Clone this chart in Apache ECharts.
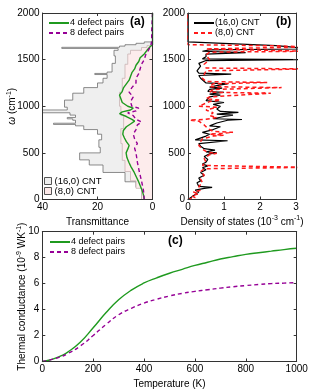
<!DOCTYPE html>
<html><head><meta charset="utf-8">
<script src="https://cdn.jsdelivr.net/npm/echarts@6/dist/echarts.min.js"></script>
<style>html,body{margin:0;padding:0;background:#fff}#c{width:313px;height:392px}</style>
</head><body><div id="c"></div>
<script>
const FONT = '"Liberation Sans", Arial, sans-serif';

// ---------- Panel (a): transmittance vs frequency (cm^-1) ----------
// step data: transmittance level starting at each frequency
const omega16 = [0, 130, 190, 290, 370, 425, 500, 560, 640, 700, 750, 790, 805, 818, 850, 865, 880, 905, 930, 960, 990, 1066, 1140, 1200, 1250, 1300, 1340, 1352, 1367, 1460, 1540, 1600, 1620, 1632, 1645, 1660, 1675, 1690];
const trans16 = [4, 6, 10, 18, 23, 26.5, 19, 19.5, 18.5, 20, 25, 28, 36, 28, 29, 31, 28, 30, 42, 31, 32, 29, 25, 20, 18, 16.5, 21, 16.5, 14.7, 13.5, 14, 12.5, 33, 12, 10, 6, 3, 0];
const omega8 = [0, 120, 200, 300, 420, 600, 760, 900, 1000, 1150, 1300, 1450, 1560, 1600, 1630, 1650];
const trans8 = [4, 6, 8, 10, 11, 11.5, 10.5, 11.5, 12, 11, 10, 9, 8, 4, 2, 0];
// defected tubes
const omegaDef4 = [0, 50, 100, 150, 200, 250, 300, 350, 400, 450, 500, 540, 580, 620, 660, 700, 740, 780, 810, 840, 860, 890, 920, 940, 960, 980, 1000, 1040, 1080, 1120, 1160, 1200, 1240, 1280, 1320, 1360, 1400, 1440, 1480, 1520, 1560, 1600, 1640, 1660, 2000];
const transDef4 = [3.0, 3.3, 3.8, 4.5, 5.2, 6.0, 6.8, 7.8, 8.6, 9.3, 9.6, 9.0, 8.5, 9.5, 10.2, 10.8, 10.6, 9.5, 8.0, 6.5, 7.5, 9.5, 12.0, 11.0, 8.0, 7.0, 9.0, 11.0, 11.5, 12.0, 11.0, 10.5, 9.5, 8.5, 8.0, 7.5, 6.5, 6.0, 5.0, 4.5, 3.0, 2.0, 0.8, 0, 0];
const omegaDef8 = [0, 100, 200, 300, 400, 500, 550, 600, 650, 700, 750, 800, 830, 860, 900, 930, 950, 980, 1000, 1050, 1100, 1150, 1200, 1250, 1300, 1350, 1400, 1450, 1500, 1550, 1600, 1650, 1700, 1800, 1820, 2000];
const transDef8 = [3.0, 3.3, 4.0, 4.8, 5.5, 6.0, 6.5, 5.5, 6.5, 7.0, 6.0, 5.5, 4.0, 6.0, 7.0, 9.0, 6.0, 5.0, 7.5, 8.0, 7.0, 8.5, 7.5, 6.0, 6.0, 5.0, 4.5, 4.0, 3.0, 2.5, 1.5, 0.6, 0.3, 0.3, 0, 0];

// ---------- Panel (b): density of states ----------
const omegaDos16 = [0, 20, 40, 60, 80, 100, 120, 130, 140, 160, 180, 200, 230, 260, 290, 320, 340, 360, 380, 400, 430, 460, 490, 500, 510, 530, 545, 570, 600, 620, 630, 640, 660, 680, 700, 720, 750, 780, 790, 820, 850, 858, 866, 890, 905, 915, 935, 945, 970, 1000, 1020, 1040, 1060, 1080, 1100, 1120, 1130, 1150, 1158, 1180, 1195, 1205, 1230, 1240, 1250, 1270, 1300, 1330, 1345, 1355, 1380, 1400, 1430, 1460, 1490, 1500, 1508, 1530, 1560, 1575, 1590, 1605, 1615, 1625, 1635, 1650, 1690, 2000];
const dos16 = [0, 0.05, 0.15, 0.1, 0.3, 0.2, 0.45, 0.67, 0.3, 0.35, 0.25, 0.35, 0.3, 0.45, 0.35, 0.5, 0.4, 0.55, 0.4, 0.5, 0.55, 0.45, 0.6, 0.8, 0.5, 0.75, 0.45, 0.35, 0.3, 0.25, 1.1, 0.2, 0.25, 0.5, 0.6, 0.4, 0.7, 0.9, 0.6, 0.8, 1.1, 1.5, 0.7, 1.0, 1.25, 0.8, 1.4, 0.9, 0.8, 0.9, 0.7, 1.0, 0.5, 0.45, 0.6, 0.9, 0.6, 1.0, 0.55, 0.6, 0.95, 0.6, 0.9, 1.1, 0.5, 0.45, 0.35, 0.3, 1.2, 0.3, 0.25, 0.3, 0.35, 0.3, 0.5, 3.3, 0.4, 0.5, 0.5, 1.6, 0.4, 0.6, 3.3, 3.3, 2.9, 2.45, 0, 0];
const omegaDos8 = [0, 20, 40, 60, 80, 100, 140, 180, 220, 260, 300, 330, 345, 355, 365, 400, 440, 480, 495, 505, 540, 580, 620, 650, 680, 690, 700, 720, 730, 760, 800, 840, 852, 860, 880, 900, 930, 960, 990, 1000, 1020, 1050, 1066, 1080, 1100, 1140, 1150, 1180, 1200, 1210, 1240, 1255, 1265, 1300, 1340, 1380, 1400, 1410, 1450, 1500, 1550, 1580, 1590, 1605, 1615, 1635, 1648, 1660, 2000];
const dos8 = [0, 0.2, 0.1, 0.3, 0.15, 0.35, 0.3, 0.4, 0.35, 0.45, 0.35, 0.45, 3.3, 3.3, 0.4, 0.5, 0.45, 0.6, 0.8, 0.55, 0.4, 0.3, 0.35, 0.4, 0.7, 1.0, 0.6, 1.25, 0.7, 0.55, 0.45, 0.3, 0.05, 0.5, 0.8, 0.6, 0.7, 0.5, 0.8, 0.3, 0.35, 0.6, 0.9, 0.5, 0.6, 2.3, 0.6, 0.7, 2.6, 0.6, 0.7, 2.2, 0.5, 0.4, 0.45, 0.5, 3.3, 0.5, 0.45, 0.6, 0.5, 0.6, 3.3, 3.3, 0.5, 3.3, 2.5, 0, 0];

// ---------- Panel (c): thermal conductance ----------
const temperature = [0, 25, 50, 75, 100, 150, 200, 250, 300, 350, 400, 450, 500, 550, 600, 650, 700, 750, 800, 850, 900, 950, 1000];
const cond4 = [0, 0.1, 0.25, 0.45, 0.72, 1.5, 2.6, 3.75, 4.75, 5.5, 6.05, 6.45, 6.8, 7.1, 7.4, 7.65, 7.9, 8.08, 8.25, 8.38, 8.5, 8.62, 8.72];
const cond8 = [0, 0.1, 0.22, 0.38, 0.6, 1.2, 2.0, 2.85, 3.6, 4.1, 4.5, 4.8, 5.05, 5.25, 5.4, 5.53, 5.65, 5.76, 5.85, 5.93, 6.0, 6.04, 6.08];

const GREEN = '#1f9a1f', PURPLE = '#960096', RED = '#ff1a1a', AXC = '#333';
const rich = {
  i: {fontStyle: 'italic', fontSize: 10, fontFamily: FONT, lineHeight: 14},
  s: {fontSize: 7, fontFamily: FONT, verticalAlign: 'top', lineHeight: 14}
};
const nameStyle = {fontSize: 10, fontFamily: FONT, color: '#000', lineHeight: 14, rich};

function axis(gridIndex, pos, min, max, interval, extra, mirror) {
  return Object.assign({
    type: 'value', gridIndex, position: pos, min, max, interval, z: 10,
    nameMoveOverlap: false,
    axisLine: {show: true, onZero: false, lineStyle: {color: AXC, width: 1}},
    axisTick: {show: true, inside: true, length: 3, lineStyle: {color: AXC}},
    axisLabel: mirror ? {show: false} : {color: '#000', fontSize: 10, fontFamily: FONT, margin: 3, formatter: v => String(v)},
    splitLine: {show: false}
  }, extra || {});
}

function stepFill(name, omegas, trans, fill, stroke) {
  return {
    name, type: 'custom', xAxisIndex: 0, yAxisIndex: 0, clip: true, silent: true,
    itemStyle: {color: fill, borderColor: stroke},
    data: omegas.map((w, i) => [trans[i], w]),
    renderItem(params, api) {
      if (params.dataIndex !== 0) return null;
      const top = 2000;
      const pts = [api.coord([0, omegas[0]])];
      for (let i = 0; i < omegas.length; i++) {
        const next = i + 1 < omegas.length ? omegas[i + 1] : top;
        pts.push(api.coord([trans[i], omegas[i]]));
        pts.push(api.coord([trans[i], next]));
      }
      pts.push(api.coord([0, top]));
      return {type: 'polygon', shape: {points: pts}, style: {fill, stroke, lineWidth: 0.8}};
    }
  };
}

function line(name, xs, ys, xi, yi, color, dashed, width, smooth, swap) {
  return {
    name, type: 'line', xAxisIndex: xi, yAxisIndex: yi, symbol: 'none', smooth: !!smooth,
    silent: true, animation: false, clip: true,
    lineStyle: {color, width: width || 1.3, type: dashed ? [4, 3] : 'solid'},
    itemStyle: {color},
    data: xs.map((x, i) => swap ? [ys[i], x] : [x, ys[i]])
  };
}

const fillNames = {fill16: '(16,0) CNT', fill8: '(8,0) CNT'};
const legendText = {fontSize: 9, fontFamily: FONT, color: '#000', lineHeight: 10, padding: [0, 0, 0, -4]};
const noSymbol = {color: 'rgba(0,0,0,0)', borderColor: 'rgba(0,0,0,0)', borderWidth: 0, opacity: 0};
function lineLegend(left, top, names) {
  return {left, top, orient: 'vertical', padding: 0, itemGap: 0, itemWidth: 20, itemHeight: 8,
    selectedMode: false, textStyle: legendText, itemStyle: noSymbol, data: names};
}

const option = {
  animation: false,
  backgroundColor: '#fff',
  grid: [
    {left: 42.5, top: 13, width: 110, height: 186.5},
    {left: 188, top: 13, width: 108, height: 186.5},
    {left: 42.3, top: 231.7, width: 254.4, height: 133.3}
  ],
  title: [
    {text: '(a)', left: 130, top: 16, padding: 0, textStyle: {fontSize: 12, fontWeight: 'bold', fontFamily: FONT, color: '#000'}},
    {text: '(b)', left: 276, top: 16, padding: 0, textStyle: {fontSize: 12, fontWeight: 'bold', fontFamily: FONT, color: '#000'}},
    {text: '(c)', left: 168, top: 235, padding: 0, textStyle: {fontSize: 12, fontWeight: 'bold', fontFamily: FONT, color: '#000'}}
  ],
  legend: [
    lineLegend(48, 18, ['4 defect pairs', '8 defect pairs']),
    lineLegend(193, 18, ['(16,0) CNT', '(8,0) CNT']),
    {left: 44, top: 176, orient: 'vertical', padding: 0, itemGap: 0, itemWidth: 7, itemHeight: 7,
     selectedMode: false, textStyle: Object.assign({}, legendText, {lineHeight: 9, fontSize: 9.5, padding: [0, 0, 0, -2]}),
     formatter: n => fillNames[n],
     data: [
       {name: 'fill16', icon: 'rect', itemStyle: {color: '#eeeeee', borderColor: '#555', borderWidth: 1}},
       {name: 'fill8', icon: 'rect', itemStyle: {color: '#fce8e8', borderColor: '#555', borderWidth: 1}}
     ]},
    lineLegend(49, 237, ['4 defect pairs', '8 defect pairs'])
  ],
  xAxis: [
    axis(0, 'bottom', 0, 40, 20, {inverse: true, name: 'Transmittance', nameLocation: 'middle', nameGap: 15.5, nameTextStyle: nameStyle}),
    axis(0, 'top', 0, 40, 20, {inverse: true}, true),
    axis(1, 'bottom', 0, 3, 1, {name: 'Density of states (10{s|-3} cm{s|-1})', nameLocation: 'middle', nameGap: 15.5, nameTextStyle: nameStyle}),
    axis(1, 'top', 0, 3, 1, {}, true),
    axis(2, 'bottom', 0, 1000, 200, {name: 'Temperature (K)', nameLocation: 'middle', nameGap: 15.5, nameTextStyle: nameStyle}),
    axis(2, 'top', 0, 1000, 200, {}, true)
  ],
  yAxis: [
    axis(0, 'left', 0, 2000, 500, {name: '{i|ω} (cm{s|-1})', nameLocation: 'middle', nameGap: 23, nameRotate: 90, nameTextStyle: nameStyle}),
    axis(0, 'right', 0, 2000, 500, {}, true),
    axis(1, 'left', 0, 2000, 500, {}),
    axis(1, 'right', 0, 2000, 500, {}, true),
    axis(2, 'left', 0, 10, 2, {name: 'Thermal conductance (10{s|-9} WK{s|-1})', nameLocation: 'middle', nameGap: 13, nameRotate: 90, nameTextStyle: nameStyle}),
    axis(2, 'right', 0, 10, 2, {}, true)
  ],
  series: [
    stepFill('fill16', omega16, trans16, '#efefef', '#6e6e6e'),
    stepFill('fill8', omega8, trans8, '#fdecec', '#c8b4b4'),
    line('4 defect pairs', omegaDef4, transDef4, 0, 0, GREEN, false, 1.4, false, true),
    line('8 defect pairs', omegaDef8, transDef8, 0, 0, PURPLE, true, 1.4, false, true),
    line('(16,0) CNT', omegaDos16, dos16, 2, 2, '#000', false, 1.2, false, true),
    line('(8,0) CNT', omegaDos8, dos8, 2, 2, RED, true, 1.5, false, true),
    line('4 defect pairs', temperature, cond4, 4, 4, GREEN, false, 1.4, true, false),
    line('8 defect pairs', temperature, cond8, 4, 4, PURPLE, true, 1.4, true, false)
  ]
};

const chart = echarts.init(document.getElementById('c'), null, {renderer: 'canvas'});
chart.setOption(option);
</script></body></html>
